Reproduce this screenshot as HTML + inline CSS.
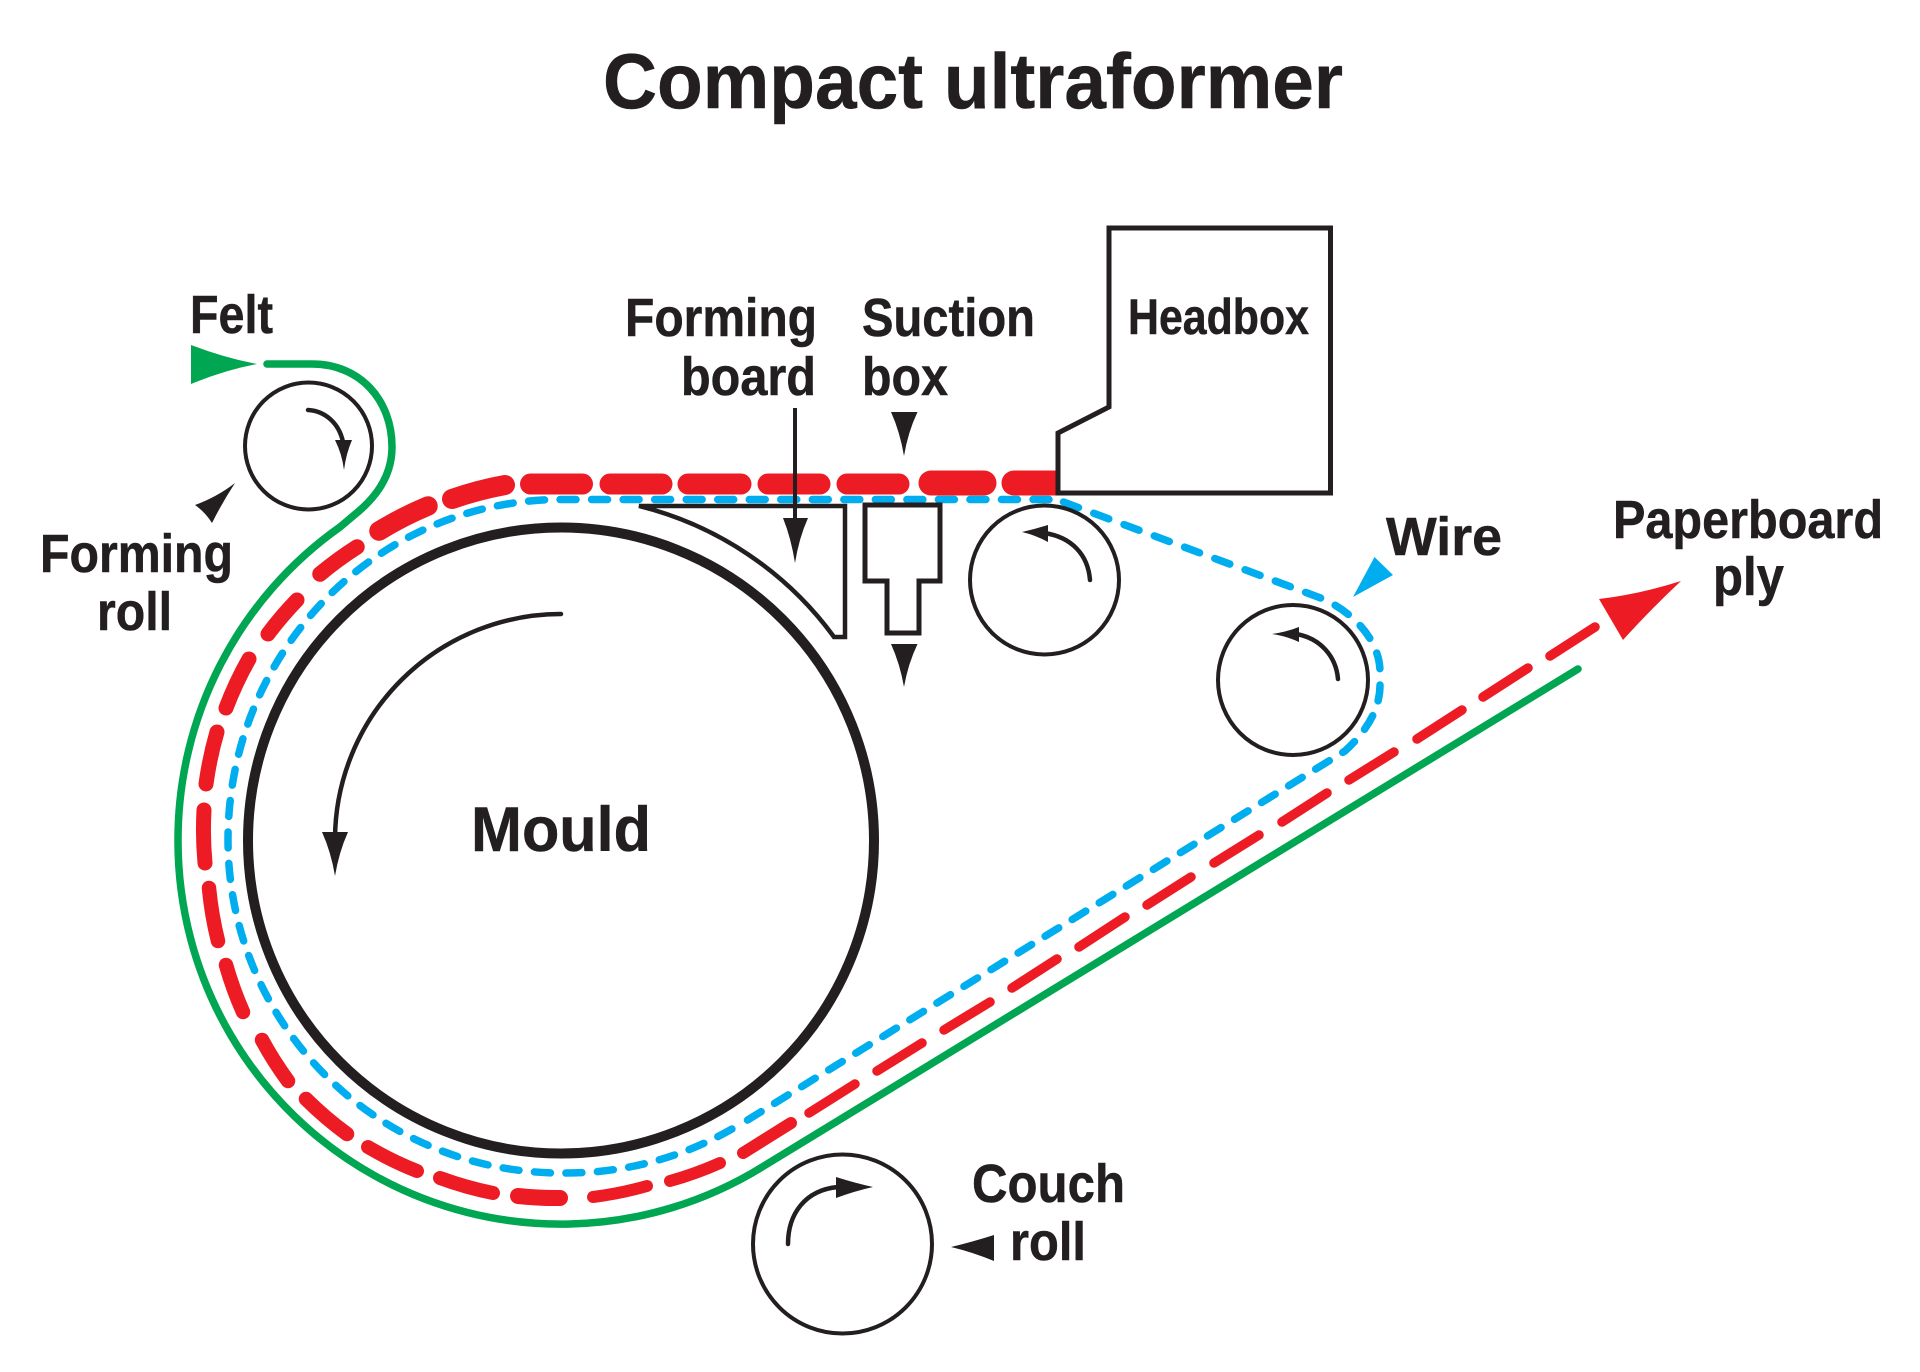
<!DOCTYPE html>
<html lang="en">
<head>
<meta charset="utf-8">
<title>Compact ultraformer</title>
<style>
html,body{margin:0;padding:0;background:#fff;width:1920px;height:1372px;overflow:hidden}
svg{display:block}
text{font-family:"Liberation Sans",sans-serif;font-weight:700;fill:#231F20;stroke:#231F20;stroke-width:.5}
.r{fill:none;stroke:#ED1C24;stroke-linecap:round}
.k{fill:none;stroke:#231F20}
.b{fill:none;stroke:#00AEEF;stroke-width:7.5;stroke-linecap:round}
</style>
</head>
<body>
<svg xmlns="http://www.w3.org/2000/svg" width="1920" height="1372" viewBox="0 0 1920 1372">
<rect width="1920" height="1372" fill="#fff"/>

<!-- Title -->
<text x="603" y="108" font-size="78" textLength="740" lengthAdjust="spacingAndGlyphs">Compact ultraformer</text>

<!-- Mould -->
<circle class="k" cx="561" cy="840.5" r="313" stroke-width="10"/>

<!-- Felt (green) -->
<path d="M267 364 L312 364 C360 364 392 400 392 447 C392 472 380 493 359 511 L340 527 A383 383 0 0 0 178 841 A383 383 0 0 0 763 1166.5 L1578 669" fill="none" stroke="#00A651" stroke-width="7.5" stroke-linecap="round" stroke-linejoin="round"/>
<path d="M191 345 Q225 358 257 364 Q225 370 191 384 Z" fill="#00A651"/>

<!-- Wire (blue) -->
<path class="b" stroke-dasharray="16 15.53" d="M1049 499.5 L561 499.5 A333 340 0 0 0 228 840 A333 333 0 0 0 561 1173 A333 333 0 0 0 737 1126"/>
<path class="b" stroke-dasharray="16 16.3" d="M1063.5 502 L1318 597 C1352 610 1380 640 1380 672"/>
<path class="b" stroke-dasharray="16 15.8" d="M1380 685 C1380 708 1368 730 1345 751 L746 1121"/>
<path d="M1353 597 L1374.5 557 L1393 575 Z" fill="#00AEEF"/>

<!-- Paperboard ply (red tapered dashes) -->
<path class="r" stroke-width="9.5" d="M1595 627L1550 656M1528 668L1483 697M1462 710L1417 739M1394 752L1349 780M1327 793L1282 822M1259 835L1214 863M1191 877L1147 905M1125 917L1079 947M1057 959L1012 988M990 1002L944 1030M922 1043L877 1071M855 1084L809 1113"/>
<path class="r" stroke-width="12" d="M791 1123L743 1153"/>
<path class="r" stroke-width="12" d="M720 1163A357 357 0 0 1 670 1181M647 1186A357 357 0 0 1 593 1197"/>
<path class="r" stroke-width="16" d="M560 1198A357 357 0 0 1 518 1196"/>
<path class="r" stroke-width="14" d="M493 1193A357 357 0 0 1 440 1178M417 1171A357 357 0 0 1 368 1147"/>
<path class="r" stroke-width="14.5" d="M347 1134A357 357 0 0 1 306 1099M288 1081A357 357 0 0 1 262 1040M243 1012A357 357 0 0 1 226 965M218 941A357 357 0 0 1 209 888"/>
<path class="r" stroke-width="15" d="M205 863A357 357 0 0 1 204 810M206 784A357 357 0 0 1 217 732M226 708A357 357 0 0 1 249 659M268 634A357 357 0 0 1 297 600"/>
<path class="r" stroke-width="15.5" d="M320 574A357 357 0 0 1 357 547"/>
<path class="r" stroke-width="19.5" d="M379 531A357 357 0 0 1 428 506"/>
<path class="r" stroke-width="20" d="M452 499A357 357 0 0 1 505 485"/>
<path class="r" stroke-width="21" d="M530.5 484L582.5 484M610 484L662 484M688 484L741 484M768 484L820 484M847 484L899 484"/>
<path class="r" stroke-width="25" d="M931 483L984 483M1014 483L1060 483"/>
<path d="M1599 599 Q1640 594 1681 581 Q1650 610 1623 640 Z" fill="#ED1C24"/>

<!-- Headbox -->
<path d="M1109 228 L1330.5 228 L1330.5 493 L1058 493 L1058 433 L1109 407 Z" fill="#fff" stroke="#231F20" stroke-width="5"/>
<text x="1128" y="334" font-size="50" textLength="181" lengthAdjust="spacingAndGlyphs">Headbox</text>

<!-- Forming board -->
<path d="M639 506 L845 506 L845 637 L834 637 A344 344 0 0 0 639 506 Z" class="k" stroke-width="4.5" stroke-linejoin="miter"/>
<path d="M795 408 L795 520" class="k" stroke-width="4"/>
<path d="M783 518 L808 518 Q799 538 795 563 Q791 538 783 518 Z" fill="#231F20"/>

<!-- Suction box -->
<path d="M865 505 L940 505 L940 581 L919 581 L919 633 L887 633 L887 581 L865 581 Z" class="k" stroke-width="5"/>
<path d="M891 412 L917.5 412 Q908 432 904 456 Q900 432 891 412 Z" fill="#231F20"/>
<path d="M891 644 L917.5 644 Q908 664 904 687 Q900 664 891 644 Z" fill="#231F20"/>

<!-- Forming roll -->
<circle class="k" cx="308.5" cy="446" r="63.5" stroke-width="4"/>
<path d="M308 410 C325 411 339 423 343 442" class="k" stroke-width="4.5" stroke-linecap="round"/>
<path d="M335 440 L352 440 Q346 454 344 470 Q342 454 335 440 Z" fill="#231F20"/>
<path d="M235 483 Q217 497 195 505 Q205 512 212 523 Q222 503 235 483 Z" fill="#231F20"/>

<!-- Breast roll -->
<circle class="k" cx="1044.5" cy="580" r="74.5" stroke-width="4"/>
<path d="M1090 580 C1088 555 1072 537 1044 533" class="k" stroke-width="4.5" stroke-linecap="round"/>
<path d="M1048 525 L1048 542 Q1035 535 1022 532 Q1035 529 1048 525 Z" fill="#231F20"/>

<!-- Wire roll -->
<circle class="k" cx="1293" cy="680" r="75" stroke-width="4"/>
<path d="M1338 679 C1336 656 1320 638 1296 634" class="k" stroke-width="4.5" stroke-linecap="round"/>
<path d="M1299 627 L1299 642 Q1286 636 1272 634 Q1286 632 1299 627 Z" fill="#231F20"/>

<!-- Couch roll -->
<circle class="k" cx="842.5" cy="1244" r="89.5" stroke-width="4"/>
<path d="M788 1244 C788 1214 805 1190 838 1187" class="k" stroke-width="4.5" stroke-linecap="round"/>
<path d="M836 1177 Q855 1183 873 1187 Q855 1191 836 1198 Z" fill="#231F20"/>
<path d="M951 1247 Q972 1242 994 1235 L994 1261 Q972 1252 951 1247 Z" fill="#231F20"/>

<!-- Mould rotation arrow -->
<path d="M561 614 A226 226 0 0 0 335 838" class="k" stroke-width="4.5" stroke-linecap="round"/>
<path d="M322 832 L348 832 Q339 852 335 876 Q331 852 322 832 Z" fill="#231F20"/>

<!-- Labels -->
<text x="190" y="333" font-size="54" textLength="83" lengthAdjust="spacingAndGlyphs">Felt</text>
<text x="40" y="572" font-size="54" textLength="193" lengthAdjust="spacingAndGlyphs">Forming</text>
<text x="97" y="630" font-size="54" textLength="75" lengthAdjust="spacingAndGlyphs">roll</text>
<text x="625" y="336" font-size="54" textLength="192" lengthAdjust="spacingAndGlyphs">Forming</text>
<text x="681" y="395" font-size="54" textLength="135" lengthAdjust="spacingAndGlyphs">board</text>
<text x="862" y="336" font-size="54" textLength="173" lengthAdjust="spacingAndGlyphs">Suction</text>
<text x="862" y="395" font-size="54" textLength="86" lengthAdjust="spacingAndGlyphs">box</text>
<text x="1386" y="555" font-size="54" textLength="116" lengthAdjust="spacingAndGlyphs">Wire</text>
<text x="1613" y="538" font-size="54" textLength="270" lengthAdjust="spacingAndGlyphs">Paperboard</text>
<text x="1713" y="595" font-size="54" textLength="71" lengthAdjust="spacingAndGlyphs">ply</text>
<text x="471" y="851" font-size="63" textLength="180" lengthAdjust="spacingAndGlyphs">Mould</text>
<text x="972" y="1202" font-size="54" textLength="153" lengthAdjust="spacingAndGlyphs">Couch</text>
<text x="1010" y="1260" font-size="54" textLength="76" lengthAdjust="spacingAndGlyphs">roll</text>
</svg>
</body>
</html>
